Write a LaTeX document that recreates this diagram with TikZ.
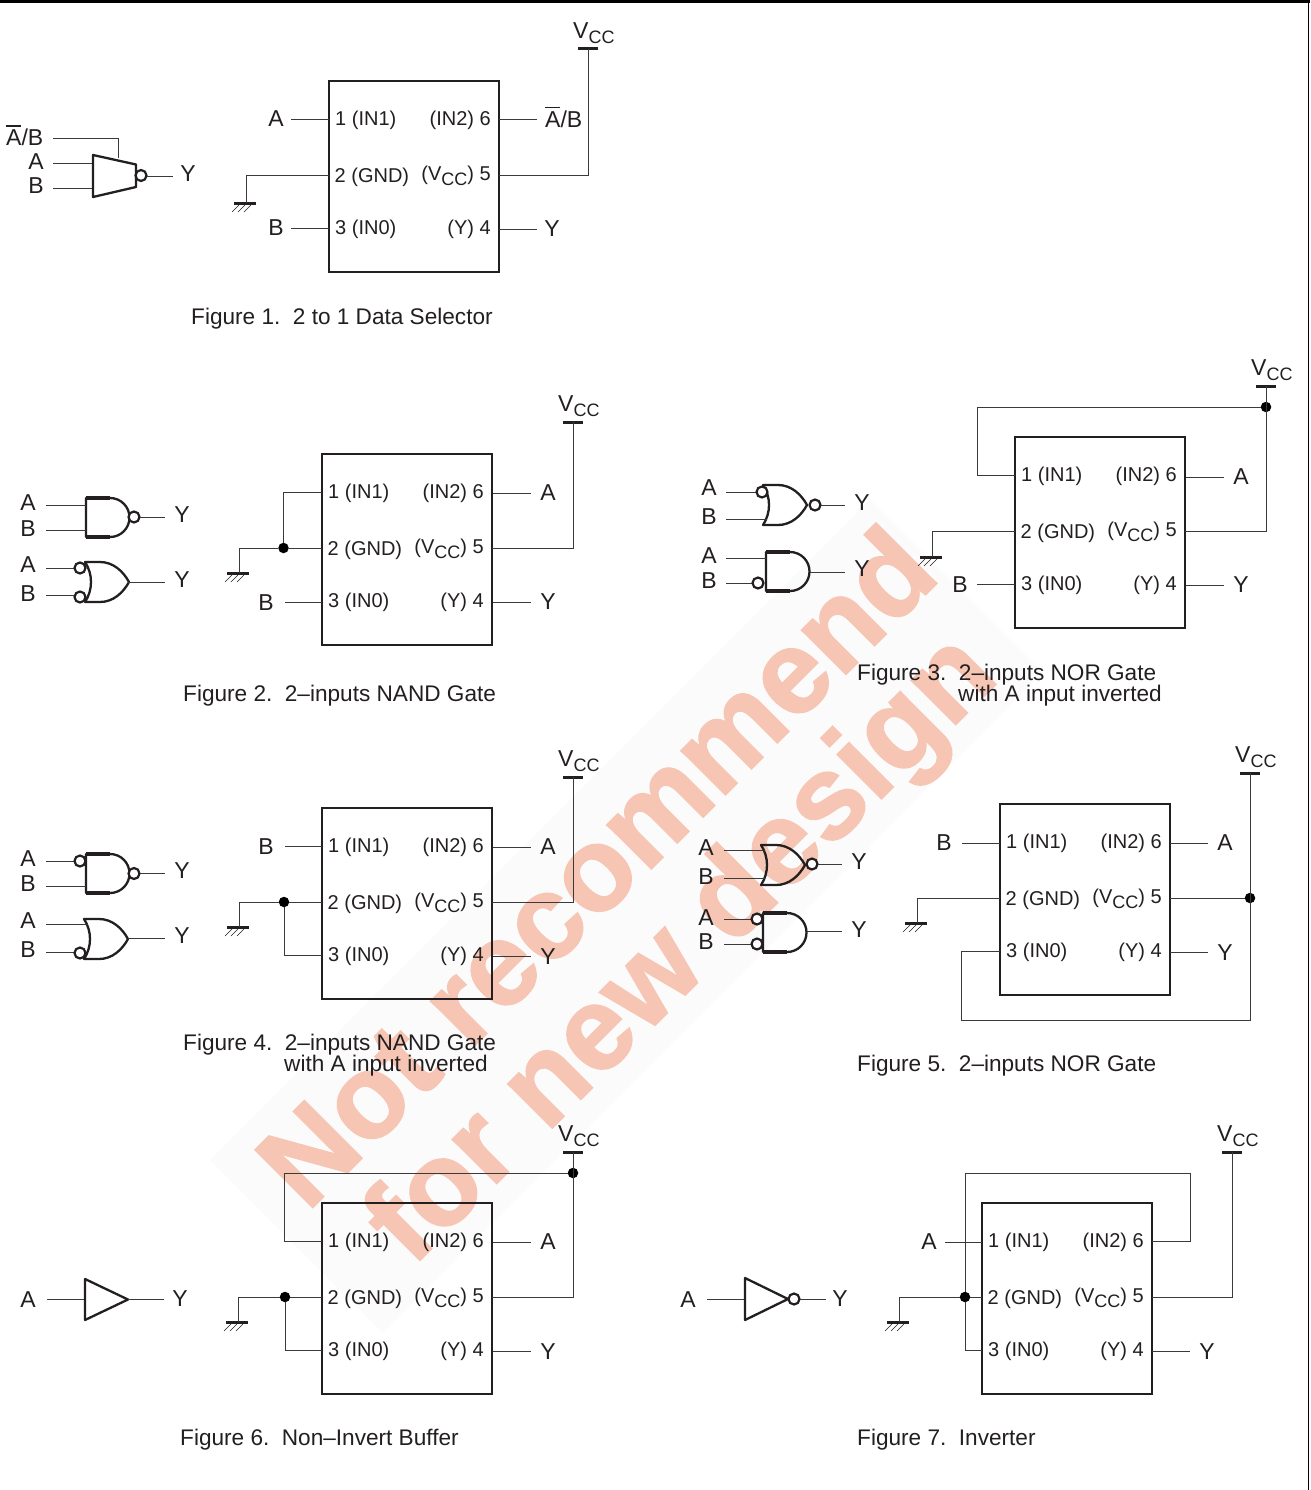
\documentclass[tikz,border=0pt]{standalone}
\usepackage{fontspec}
\setmainfont{Liberation Sans}
\newfontfamily\wmfont[FakeBold=1.6]{Liberation Sans Bold}
\definecolor{wm}{HTML}{F6C5B3}
\definecolor{band}{HTML}{FBFBFB}
\definecolor{ink}{HTML}{231F20}
\definecolor{wirec}{HTML}{3A3A3A}
\newcommand\fsz[1]{\fontsize{#1}{#1}\selectfont}
\newcommand\barA{\leavevmode\rlap{\rule[19pt]{15pt}{1.3pt}}A}
\newcommand\subCC{\raisebox{-5.2pt}{\fsz{18}CC}}
\tikzset{
  wire/.style={draw=wirec,line width=0.95pt},
  gatel/.style={draw=ink,line width=2.3pt,line join=round},
  thickflat/.style={draw=ink,line width=3.4pt},
  chipbox/.style={draw=ink,line width=2.5pt,fill=none,inner sep=0pt,outer sep=0pt,minimum width=170pt,minimum height=191pt,anchor=north west},
  pinl/.style={inner sep=0pt,anchor=base west,text=ink,font=\fsz{20}},
  pinr/.style={inner sep=0pt,anchor=base east,text=ink,font=\fsz{20}},
  letter/.style={inner sep=0pt,text=ink,font=\fsz{23}},
  lbase/.style={inner sep=0pt,anchor=base west,text=ink,font=\fsz{23}},
  caption/.style={inner sep=0pt,anchor=base west,text=ink,font=\fsz{22.6}},
  bub/.style={circle,draw=ink,line width=2.2pt,fill=white,inner sep=0pt,minimum size=11pt},
  jdot/.style={circle,fill=black,inner sep=0pt,minimum size=10.5pt},
  andbody/.pic={
    \path[gatel] (0,0) -- (24,0) .. controls (34.8,0) and (43.5,8.7) .. (43.5,19.5)
       .. controls (43.5,30.3) and (34.8,39) .. (24,39) -- (0,39) -- cycle;
    \draw[thickflat] (0,0) -- (24,0);
    \draw[thickflat] (0,39) -- (24,39);
  },
  orbody/.pic={
    \path[gatel] (0,0) -- (15,0) .. controls (28,0) and (38,9) .. (44,20)
       .. controls (38,31) and (28,40) .. (15,40) -- (0,40)
       .. controls (8,28) and (8,12) .. (0,0) -- cycle;
  },
  gndsym/.pic={
    \draw[draw=ink,line width=3pt] (-11,0) -- (11,0);
    \draw[draw=ink,line width=0.6pt] (-6,2) -- (-13,9) (0,2) -- (-7,9) (6,2) -- (-1,9);
    \coordinate (-top) at (1.5,0);
  },
}
% chip with its six pin coordinates and labels
\newcommand\ichip[3]{%
  \begin{scope}[shift={(#2,#3)}]
    \node[chipbox] (#1) at (0,0) {};
    \coordinate (#1p1) at (0,38);
    \coordinate (#1p2) at (0,94);
    \coordinate (#1p3) at (0,147);
    \coordinate (#1p4) at (170,148);
    \coordinate (#1p5) at (170,94);
    \coordinate (#1p6) at (170,38);
    \node[pinl] (#1t1) at (6,44.7) {1 (IN1)};
    \node[pinl] (#1t2) at (5.5,101.7) {2 (GND)};
    \node[pinl] (#1t3) at (6,153.6) {3 (IN0)};
    \node[pinr] (#1t6) at (162,44.7) {(IN2) 6};
    \node[pinr] (#1t5) at (162,99.5) {(V\subCC) 5};
    \node[pinr] (#1t4) at (162,153.6) {(Y) 4};
  \end{scope}}
% VCC rail: bar and text
\newcommand\vcc[3]{%
  \coordinate (#1) at (#2,#3);
  \draw[draw=ink,line width=3pt] ([xshift=-10pt]#1) -- ([xshift=10pt]#1);
  \node[lbase] (#1t) at ([xshift=-15pt,yshift=10.5pt]#1) {V\subCC};}
% wire with a label: id, text, label x, label y, x1, y, x2
\newcommand\lwire[7]{%
  \node[letter] (#1) at (#3,#4) {#2};
  \coordinate (#1s) at (#5,#6);
  \coordinate (#1e) at (#7,#6);
  \draw[wire] (#1s) -- (#1e);}
\begin{document}
\begin{tikzpicture}[x=1pt,y=-1pt]
\useasboundingbox (0,0) rectangle (1310,1490);
\fill[white] (0,0) rectangle (1310,1490);
% watermark
\fill[band] (870,500) -- (1042.5,672.5) -- (382.5,1332.5) -- (210,1160) -- cycle;
\node[inner sep=0pt,anchor=base west,rotate=45,text=wm,font=\wmfont\fsz{118}] (wm1) at (307,1213) {Not recommend};
\node[inner sep=0pt,anchor=base west,rotate=45,text=wm,font=\wmfont\fsz{118}] (wm2) at (412,1268) {for new design};
% page frame
\draw[black,line width=3pt] (0,2) -- (1310,2);
\draw[black,line width=1.5pt] (1308.5,2) -- (1308.5,1490);

% ---------- Figure 1
\node[lbase] (f1ab) at (6,145.7) {\barA/B};
\coordinate (f1abs) at (53,138);
\coordinate (f1abe) at (118,158.5);
\draw[wire] (f1abs) -| (f1abe);
\lwire{f1a}{A}{36}{162}{53}{163}{93}
\lwire{f1b}{B}{36}{186}{53}{188}{93}
\draw[gatel] (93,155) -- (136,164.5) -- (136,187) -- (93,197) -- cycle;
\node[bub] (f1bub) at (141,175.5) {};
\lwire{f1y}{Y}{188}{174}{147}{176}{173}

\ichip{c1}{329}{81}
\lwire{c1a}{A}{276}{119}{291}{119}{329}
\lwire{c1b}{B}{276}{228}{291}{228}{329}
\coordinate (c1as) at (499,119);\coordinate (c1ae) at (537,119);
\draw[wire] (c1as) -- (c1ae);
\node[lbase] (c1ab) at (545,127.5) {\barA/B};
\lwire{c1y}{Y}{552}{229}{499}{229}{537}
\vcc{v1}{588}{49}
\draw[wire] (c1p5) -| (v1);
\pic (g1) at (245,203) {gndsym};
\draw[wire] (c1p2) -| (g1-top);

\node[caption] (cap1) at (191,324) {Figure 1.\ \ 2 to 1 Data Selector};

% ---------- Figure 2
\pic at (86,498) {andbody};
\lwire{f2a}{A}{28}{503}{46}{505}{86}
\lwire{f2b}{B}{28}{529}{46}{530}{86}
\node[bub] (f2bub) at (134,517) {};
\lwire{f2y}{Y}{182}{515}{140}{517}{165}
\pic at (85,562) {orbody};
\lwire{f2c}{A}{28}{565}{46}{568}{75}
\lwire{f2d}{B}{28}{594}{46}{595}{75}
\node[bub] (f2bc) at (80,568) {};
\node[bub] (f2bd) at (80,597) {};
\lwire{f2z}{Y}{182}{580}{128}{582}{165}

\ichip{c2}{322}{454}
\lwire{c2b}{B}{266}{603}{285}{602}{322}
\lwire{c2a}{A}{548}{493}{493}{493}{531}
\lwire{c2y}{Y}{548}{602}{493}{602}{531}
\vcc{v2}{573}{422}
\draw[wire] (c2p5) -| (v2);
\pic (g2) at (238,573) {gndsym};
\node[jdot] (d2) at (283.5,548) {};
\draw[wire] (c2p2) -- (d2);
\draw[wire] (d2) -| (g2-top);
\draw[wire] (d2) |- (c2p1);
\node[caption] (cap2) at (183,701.5) {Figure 2.\ \ 2–inputs NAND Gate};

% ---------- Figure 3
\pic at (763,485) {orbody};
\lwire{f3a}{A}{709}{488}{726}{492}{757}
\lwire{f3b}{B}{709}{517}{726}{519}{767}
\node[bub] (f3ba) at (762,492) {};
\node[bub] (f3bo) at (815,505) {};
\lwire{f3y}{Y}{862}{503}{821}{505}{845}
\pic at (766,552) {andbody};
\lwire{f3c}{A}{709}{556}{726}{558}{766}
\lwire{f3d}{B}{709}{581}{726}{583}{753}
\node[bub] (f3bd) at (758,583) {};
\lwire{f3z}{Y}{862}{569}{810}{572}{845}

\ichip{c3}{1015}{437}
\lwire{c3b}{B}{960}{585}{977}{584}{1015}
\lwire{c3a}{A}{1241}{477}{1186}{477}{1224}
\lwire{c3y}{Y}{1241}{585}{1186}{585}{1224}
\vcc{v3}{1266}{386}
\node[jdot] (d3) at (1266,407) {};
\draw[wire] (c3p5) -| (v3);
\coordinate (k3) at (977,407);
\draw[wire] (c3p1) -| (k3) -- (d3);
\pic (g3) at (931,557) {gndsym};
\draw[wire] (c3p2) -| (g3-top);
\node[caption] (cap3a) at (857,680) {Figure 3.\ \ 2–inputs NOR Gate};
\node[caption] (cap3b) at (958,701) {with A input inverted};

% ---------- Figure 4
\pic at (86,854) {andbody};
\lwire{f4a}{A}{28}{859}{46}{861}{75}
\lwire{f4b}{B}{28}{884}{46}{886}{86}
\node[bub] (f4ba) at (80,861) {};
\node[bub] (f4bo) at (134,873.5) {};
\lwire{f4y}{Y}{182}{871}{140}{873}{165}
\pic at (84,919) {orbody};
\lwire{f4c}{A}{28}{921}{46}{924}{88}
\lwire{f4d}{B}{28}{950}{46}{952}{75}
\node[bub] (f4bd) at (80,953) {};
\lwire{f4z}{Y}{182}{936}{128}{938}{165}

\ichip{c4}{322}{808}
\lwire{c4b}{B}{266}{847}{285}{846}{322}
\lwire{c4a}{A}{548}{847}{493}{847}{531}
\lwire{c4y}{Y}{548}{957}{493}{956}{531}
\vcc{v4}{573}{777}
\draw[wire] (c4p5) -| (v4);
\pic (g4) at (238,927) {gndsym};
\node[jdot] (d4) at (284,902) {};
\draw[wire] (c4p2) -- (d4);
\draw[wire] (d4) -| (g4-top);
\draw[wire] (d4) |- (c4p3);
\node[caption] (cap4a) at (183,1050) {Figure 4.\ \ 2–inputs NAND Gate};
\node[caption] (cap4b) at (284,1071) {with A input inverted};

% ---------- Figure 5
\pic at (761,845) {orbody};
\lwire{f5a}{A}{706}{848}{724}{850}{765}
\lwire{f5b}{B}{706}{877}{724}{878}{765}
\node[bub] (f5bo) at (812,864) {};
\lwire{f5y}{Y}{859}{862}{818}{864}{842}
\pic at (763,913) {andbody};
\lwire{f5c}{A}{706}{918}{724}{919}{752}
\lwire{f5d}{B}{706}{942}{724}{944}{752}
\node[bub] (f5bc) at (757,919) {};
\node[bub] (f5bd) at (757,944) {};
\lwire{f5z}{Y}{859}{930}{807}{931}{842}

\ichip{c5}{1000}{804}
\lwire{c5b}{B}{944}{843}{962}{843}{1000}
\lwire{c5a}{A}{1225}{843}{1170}{843}{1208}
\lwire{c5y}{Y}{1225}{953}{1170}{952}{1208}
\vcc{v5}{1250}{773}
\node[jdot] (d5) at (1250,898) {};
\draw[wire] (c5p5) -- (d5);
\coordinate (k5) at (961,1020);
\draw[wire] (v5) |- (k5) |- (c5p3);
\pic (g5) at (916,923) {gndsym};
\draw[wire] (c5p2) -| (g5-top);
\node[caption] (cap5) at (857,1071) {Figure 5.\ \ 2–inputs NOR Gate};

% ---------- Figure 6
\lwire{f6a}{A}{28}{1300}{47}{1299}{85}
\draw[gatel] (85,1279) -- (128,1299.5) -- (85,1320) -- cycle;
\lwire{f6y}{Y}{180}{1299}{128}{1299}{164}

\ichip{c6}{322}{1203}
\lwire{c6a}{A}{548}{1242}{493}{1242}{531}
\lwire{c6y}{Y}{548}{1352}{493}{1351}{531}
\vcc{v6}{573}{1152}
\node[jdot] (d6a) at (573,1173) {};
\draw[wire] (c6p5) -| (v6);
\coordinate (k6) at (284,1173);
\draw[wire] (c6p1) -| (k6) -- (d6a);
\pic (g6) at (237,1322) {gndsym};
\node[jdot] (d6) at (285,1297) {};
\draw[wire] (c6p2) -- (d6);
\draw[wire] (d6) -| (g6-top);
\draw[wire] (d6) |- (c6p3);
\node[caption] (cap6) at (180,1445) {Figure 6.\ \ Non–Invert Buffer};

% ---------- Figure 7
\lwire{f7a}{A}{688}{1300}{707}{1299}{745}
\draw[gatel] (745,1278) -- (788,1299) -- (745,1320) -- cycle;
\node[bub] (f7bo) at (794,1299) {};
\lwire{f7y}{Y}{840}{1299}{800}{1299}{826}

\ichip{c7}{982}{1203}
\lwire{c7a}{A}{929}{1242}{945}{1242}{982}
\lwire{c7y}{Y}{1207}{1352}{1152}{1351}{1190}
\vcc{v7}{1232}{1152}
\draw[wire] (c7p5) -| (v7);
\node[jdot] (d7) at (965,1297) {};
\coordinate (k7a) at (1190,1173);
\coordinate (k7b) at (965,1173);
\draw[wire] (c7p6) -| (k7a) -- (k7b) -- (d7);
\pic (g7) at (898,1322) {gndsym};
\draw[wire] (c7p2) -- (d7);
\draw[wire] (d7) -| (g7-top);
\draw[wire] (d7) |- (c7p3);
\node[caption] (cap7) at (857,1445) {Figure 7.\ \ Inverter};
\end{tikzpicture}
\end{document}
